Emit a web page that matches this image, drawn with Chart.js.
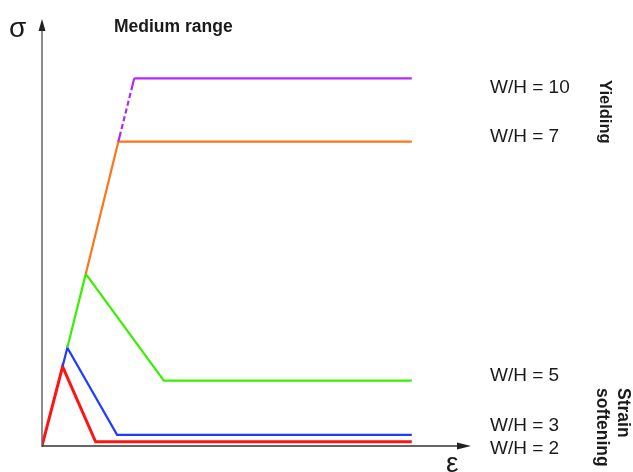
<!DOCTYPE html>
<html>
<head>
<meta charset="utf-8">
<script src="https://cdn.jsdelivr.net/npm/chart.js@4/dist/chart.umd.min.js"></script>
<style>
  html, body { margin: 0; padding: 0; background: #fff; }
  #wrap { width: 633px; height: 472px; position: relative; }
</style>
</head>
<body>
<div id="wrap"><canvas id="stressChart"></canvas></div>
<script>
// strain (eps) and stress (sigma) points, arbitrary units 0..100
const redEps = [0, 4.8, 12.5, 86.2];
const redSigma = [0, 18.6, 1.0, 1.0];
const blueEps = [4.8, 5.9, 17.5, 86.2];
const blueSigma = [18.6, 23.0, 2.6, 2.6];
const greenEps = [5.9, 10.2, 28.4, 86.2];
const greenSigma = [23.0, 40.3, 15.3, 15.3];
const orangeEps = [10.2, 17.8, 86.2];
const orangeSigma = [40.3, 71.3, 71.3];
const purpleEps = [17.8, 21.5, 86.2];
const purpleSigma = [71.3, 86.1, 86.1];

const seriesLabels = ["W/H = 2", "W/H = 3", "W/H = 5", "W/H = 7", "W/H = 10"];

function pts(xs, ys) {
    return xs.map((x, i) => ({ x: x, y: ys[i] }));
}

// axes with arrow heads + annotation texts
const sketchPlugin = {
    id: 'sketch',
    afterDraw(chart) {
        const ctx = chart.ctx;
        const xs = chart.scales.x;
        const ys = chart.scales.y;
        const x0 = xs.getPixelForValue(0);
        const y0 = ys.getPixelForValue(0);
        const xEnd = xs.getPixelForValue(100);
        const yEnd = ys.getPixelForValue(100);
        ctx.save();

        // y axis
        ctx.strokeStyle = '#666';
        ctx.fillStyle = '#222';
        ctx.lineWidth = 1.5;
        ctx.beginPath();
        ctx.moveTo(x0, y0 + 1);
        ctx.lineTo(x0, yEnd + 10);
        ctx.stroke();
        ctx.beginPath();
        ctx.moveTo(x0, yEnd);
        ctx.lineTo(x0 - 3.5, yEnd + 12);
        ctx.lineTo(x0 + 3.5, yEnd + 12);
        ctx.closePath();
        ctx.fill();

        // x axis
        ctx.strokeStyle = '#333';
        ctx.beginPath();
        ctx.moveTo(x0, y0);
        ctx.lineTo(xEnd - 12, y0);
        ctx.stroke();
        ctx.beginPath();
        ctx.moveTo(xEnd, y0);
        ctx.lineTo(xEnd - 14, y0 - 3.5);
        ctx.lineTo(xEnd - 14, y0 + 3.5);
        ctx.closePath();
        ctx.fill();

        ctx.fillStyle = '#1a1a1a';
        ctx.textBaseline = 'alphabetic';
        ctx.textAlign = 'left';

        ctx.font = '28px "Liberation Sans", Arial, sans-serif';
        ctx.fillText('σ', 9, 37);
        ctx.fillText('ε', 446, 472);

        ctx.font = 'bold 17.5px "Liberation Sans", Arial, sans-serif';
        ctx.fillText('Medium range', 114, 32);

        ctx.font = '19px "Liberation Sans", Arial, sans-serif';
        const labelY = [454, 431, 381, 142, 93];
        seriesLabels.forEach((t, i) => ctx.fillText(t, 490, labelY[i]));

        // rotated side notes
        ctx.font = 'bold 16.5px "Liberation Sans", Arial, sans-serif';
        ctx.save();
        ctx.translate(600, 80);
        ctx.rotate(Math.PI / 2);
        ctx.fillText('Yielding', 0, 0);
        ctx.restore();

        ctx.font = 'bold 17.5px "Liberation Sans", Arial, sans-serif';
        ctx.save();
        ctx.translate(617.5, 388);
        ctx.rotate(Math.PI / 2);
        ctx.fillText('Strain', 0, 0);
        ctx.fillText('softening', 0, 21);
        ctx.restore();

        ctx.restore();
    }
};

const ctxStress = document.getElementById('stressChart').getContext('2d');
const stressChart = new Chart(ctxStress, {
    type: 'line',
    data: {
        datasets: [
            {
                label: seriesLabels[4],
                data: pts(purpleEps, purpleSigma),
                borderColor: '#b028ff',
                borderWidth: 2.2,
                segment: {
                    // rising part is drawn broken, solid at both ends
                    borderDash: c => c.p0DataIndex === 0 ? [10, 3, 5, 3, 5, 3, 5, 3, 5, 3, 5, 3, 30] : undefined,
                },
            },
            {
                label: seriesLabels[3],
                data: pts(orangeEps, orangeSigma),
                borderColor: '#ff7417',
                borderWidth: 2.2,
            },
            {
                label: seriesLabels[2],
                data: pts(greenEps, greenSigma),
                borderColor: '#38f000',
                borderWidth: 2.2,
            },
            {
                label: seriesLabels[1],
                data: pts(blueEps, blueSigma),
                borderColor: '#1f3cff',
                borderWidth: 2.2,
            },
            {
                label: seriesLabels[0],
                data: pts(redEps, redSigma),
                borderColor: '#ff1414',
                borderWidth: 3,
            },
        ]
    },
    options: {
        responsive: true,
        maintainAspectRatio: false,
        animation: false,
        elements: {
            point: { radius: 0 },
            line: { tension: 0, fill: false },
        },
        layout: {
            padding: { left: 42, right: 162, top: 19, bottom: 26 }
        },
        scales: {
            x: { type: 'linear', min: 0, max: 100, display: false },
            y: { type: 'linear', min: 0, max: 100, display: false },
        },
        plugins: {
            legend: { display: false },
            tooltip: { enabled: false },
        }
    },
    plugins: [sketchPlugin],
});
</script>
</body>
</html>
